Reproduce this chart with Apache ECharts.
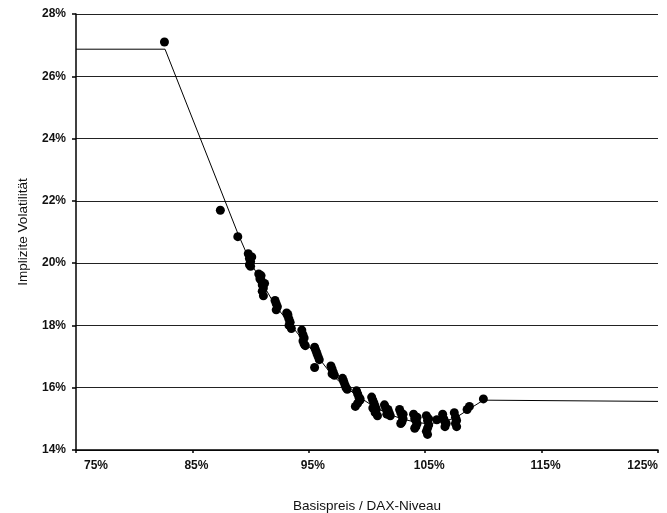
<!DOCTYPE html>
<html>
<head>
<meta charset="utf-8">
<script src="https://cdn.jsdelivr.net/npm/echarts@6/dist/echarts.min.js"></script>
<style>
html,body{margin:0;padding:0;background:#fff;}
#c{width:667px;height:513px;}
</style>
</head>
<body>
<div id="c"></div>
<script>
const xTicks = [75, 85, 95, 105, 115, 125];
const yTicks = [14, 16, 18, 20, 22, 24, 26, 28];
const xTitle = 'Basispreis / DAX-Niveau';
const yTitle = 'Implizite Volatilität';

// observed implied volatilities [strike/DAX %, vol %]
const observed = [
  [82.6,27.1],[87.4,21.7],[88.9,20.85],
  [89.8,20.3],[89.9,20.15],[90.0,20.05],[89.9,19.95],[90.1,20.2],[90.0,19.9],
  [90.7,19.65],[90.8,19.5],[90.9,19.45],[91.0,19.3],[91.1,19.2],[91.0,19.1],[91.2,19.35],[91.1,18.95],[90.9,19.6],
  [92.1,18.8],[92.2,18.7],[92.3,18.6],[92.2,18.5],
  [93.1,18.4],[93.2,18.3],[93.3,18.2],[93.4,18.1],[93.3,18.0],[93.5,17.9],[93.2,18.35],
  [94.4,17.85],[94.5,17.7],[94.6,17.6],[94.5,17.5],[94.6,17.4],[94.7,17.35],
  [95.5,17.3],[95.6,17.2],[95.7,17.1],[95.8,17.0],[95.9,16.9],[95.5,16.65],
  [96.9,16.7],[97.0,16.6],[97.1,16.5],[97.2,16.4],[97.0,16.45],
  [97.9,16.3],[98.0,16.2],[98.1,16.1],[98.2,16.0],[98.3,15.95],
  [99.1,15.9],[99.2,15.8],[99.3,15.7],[99.4,15.6],[99.2,15.5],[99.0,15.4],[99.4,15.65],
  [100.4,15.7],[100.5,15.6],[100.6,15.5],[100.7,15.4],[100.8,15.3],[100.7,15.2],[100.9,15.1],[100.5,15.35],
  [101.5,15.45],[101.6,15.35],[101.8,15.3],[101.9,15.2],[102.0,15.1],[101.7,15.15],
  [102.8,15.3],[102.9,15.2],[103.0,15.1],[103.1,15.0],[103.0,14.9],[102.9,14.85],[103.1,15.15],
  [104.0,15.15],[104.1,15.0],[104.2,14.95],[104.3,14.85],[104.2,14.75],[104.1,14.7],[104.3,15.05],
  [105.1,15.1],[105.2,14.95],[105.3,14.8],[105.2,14.7],[105.1,14.6],[105.2,14.5],[105.3,15.0],
  [106.0,14.97],
  [106.5,15.15],[106.6,15.0],[106.7,14.9],[106.8,14.85],[106.7,14.75],
  [107.5,15.2],[107.6,15.05],[107.7,14.95],[107.6,14.85],[107.7,14.75],
  [108.6,15.3],[108.8,15.4],
  [110.0,15.64]
];

// fitted smile curve [strike/DAX %, vol %]
const fitted = [
  [75,26.87],[82.65,26.87],[88.92,20.94],[89.95,20.06],[91.15,19.26],[92.1,18.65],
  [93.2,18.13],[94.4,17.58],[95.7,17.03],[96.9,16.45],[98.1,16.03],[99.3,15.71],
  [100.6,15.39],[101.8,15.16],[103.0,15.0],[104.1,14.9],[105.2,14.84],[106.4,14.9],
  [107.6,15.03],[108.8,15.32],[110.0,15.6],[110.1,15.56],[125,15.56]
];

const FONT = '"Liberation Sans",Arial,sans-serif';
const chart = echarts.init(document.getElementById('c'), null, {renderer:'canvas'});
chart.setOption({
  animation: false,
  backgroundColor: '#fff',
  grid: {left: 76, right: 9, top: 14, bottom: 63, containLabel: false, outerBoundsMode: 'none'},
  xAxis: {
    type: 'value',
    min: xTicks[0], max: xTicks[xTicks.length-1], interval: 10,
    name: xTitle, nameLocation: 'middle', nameGap: 49,
    nameTextStyle: {fontFamily: FONT, fontSize: 13.5, color: '#111'},
    axisLine: {show: true, onZero: false, lineStyle: {color: '#000', width: 1.5}},
    axisTick: {show: true, inside: false, length: 3, lineStyle: {color: '#000', width: 1.5}},
    axisLabel: {formatter: v => v + '%', fontFamily: FONT, fontSize: 12, fontWeight: 'bold', color: '#111', margin: 10,
      padding: [0,0,0,8], alignMinLabel: 'left', alignMaxLabel: 'right'},
    splitLine: {show: false}
  },
  yAxis: {
    type: 'value',
    min: yTicks[0], max: yTicks[yTicks.length-1], interval: 2,
    name: yTitle, nameLocation: 'middle', nameGap: 46, nameRotate: 90,
    nameTextStyle: {fontFamily: FONT, fontSize: 13.5, color: '#111'},
    axisLine: {show: true, onZero: false, lineStyle: {color: '#000', width: 1.5}},
    axisTick: {show: true, inside: false, length: 4, lineStyle: {color: '#000', width: 1.5}},
    axisLabel: {formatter: v => v + '%', fontFamily: FONT, fontSize: 12, fontWeight: 'bold', color: '#111', margin: 10},
    splitLine: {show: true, lineStyle: {color: '#222', width: 1}}
  },
  series: [
    {
      type: 'line', data: fitted, symbol: 'none', smooth: false,
      lineStyle: {color: '#000', width: 1}, z: 2
    },
    {
      type: 'scatter', data: observed, symbol: 'circle', symbolSize: 9,
      itemStyle: {color: '#000', opacity: 1}, z: 3
    }
  ]
});
</script>
</body>
</html>
